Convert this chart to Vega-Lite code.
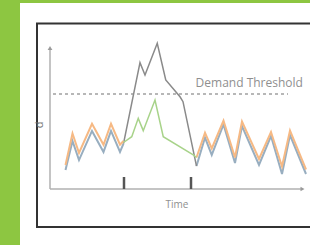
{
  "$schema": "https://vega.github.io/schema/vega-lite/v6.json",
  "width": 290,
  "height": 242,
  "autosize": {"type": "none"},
  "padding": {"left": 20, "top": 3, "right": 0, "bottom": 0},
  "background": "#8dc641",
  "config": {"view": {"fill": "white", "stroke": null}},
  "datasets": {
    "lines": [
      {"series": "blue_left", "t": 6.2, "d": 12.7},
      {"series": "blue_left", "t": 9, "d": 32},
      {"series": "blue_left", "t": 11.6, "d": 19.3},
      {"series": "blue_left", "t": 16.8, "d": 38.7},
      {"series": "blue_left", "t": 21.4, "d": 24.7},
      {"series": "blue_left", "t": 24.4, "d": 38.7},
      {"series": "blue_left", "t": 28, "d": 24.7},
      {"series": "blue_left", "t": 29.4, "d": 30.3},
      {"series": "orange_left", "t": 6.2, "d": 16},
      {"series": "orange_left", "t": 9, "d": 37},
      {"series": "orange_left", "t": 11.6, "d": 24},
      {"series": "orange_left", "t": 16.8, "d": 43.5},
      {"series": "orange_left", "t": 21.4, "d": 29.5},
      {"series": "orange_left", "t": 24.4, "d": 43.5},
      {"series": "orange_left", "t": 28, "d": 29.5},
      {"series": "orange_left", "t": 29.4, "d": 32},
      {"series": "peak", "t": 29.4, "d": 30.3},
      {"series": "peak", "t": 36, "d": 84.2},
      {"series": "peak", "t": 38, "d": 76},
      {"series": "peak", "t": 42.9, "d": 97.1},
      {"series": "peak", "t": 46.3, "d": 72.7},
      {"series": "peak", "t": 52, "d": 61.5},
      {"series": "peak", "t": 53.2, "d": 58.2},
      {"series": "peak", "t": 58.6, "d": 15.3},
      {"series": "green", "t": 29.4, "d": 31},
      {"series": "green", "t": 32.7, "d": 34.9},
      {"series": "green", "t": 35.3, "d": 47.1},
      {"series": "green", "t": 37.3, "d": 38.9},
      {"series": "green", "t": 42, "d": 59.3},
      {"series": "green", "t": 45.3, "d": 34.9},
      {"series": "green", "t": 57.3, "d": 22.7},
      {"series": "green", "t": 58.6, "d": 21},
      {"series": "blue_right", "t": 58.6, "d": 15.3},
      {"series": "blue_right", "t": 62, "d": 34.3},
      {"series": "blue_right", "t": 64.7, "d": 22.7},
      {"series": "blue_right", "t": 69.4, "d": 43},
      {"series": "blue_right", "t": 74, "d": 17.3},
      {"series": "blue_right", "t": 76.8, "d": 42},
      {"series": "blue_right", "t": 83.6, "d": 16},
      {"series": "blue_right", "t": 88.4, "d": 35.3},
      {"series": "blue_right", "t": 92.8, "d": 10},
      {"series": "blue_right", "t": 96, "d": 36},
      {"series": "blue_right", "t": 102.4, "d": 10},
      {"series": "orange_right", "t": 58.6, "d": 21},
      {"series": "orange_right", "t": 62, "d": 37.5},
      {"series": "orange_right", "t": 64.7, "d": 27},
      {"series": "orange_right", "t": 69.4, "d": 45.5},
      {"series": "orange_right", "t": 74, "d": 21},
      {"series": "orange_right", "t": 76.8, "d": 45},
      {"series": "orange_right", "t": 83.6, "d": 20},
      {"series": "orange_right", "t": 88.4, "d": 38},
      {"series": "orange_right", "t": 92.8, "d": 15},
      {"series": "orange_right", "t": 96, "d": 39},
      {"series": "orange_right", "t": 102.4, "d": 13}
    ]
  },
  "layer": [
    {
      "data": {"values": [{"t": -5.2, "t2": 112, "d": 110.3, "d2": -25.3}]},
      "mark": {"type": "rect", "fill": "white", "stroke": "#333333", "strokeWidth": 2},
      "encoding": {
        "x": {"field": "t", "type": "quantitative", "scale": {"domain": [-12, 104], "nice": false, "zero": false}, "axis": null},
        "x2": {"field": "t2"},
        "y": {"field": "d", "type": "quantitative", "scale": {"domain": [-37.33, 124], "nice": false, "zero": false}, "axis": null},
        "y2": {"field": "d2"}
      }
    },
    {
      "data": {"values": [{"t": 0, "t2": 0, "d": 0, "d2": 94}, {"t": 0, "t2": 101, "d": 0, "d2": 0}]},
      "mark": {"type": "rule", "color": "#b0b0b0", "strokeWidth": 1.5},
      "encoding": {
        "x": {"field": "t", "type": "quantitative"},
        "x2": {"field": "t2"},
        "y": {"field": "d", "type": "quantitative"},
        "y2": {"field": "d2"}
      }
    },
    {
      "data": {"values": [{"t": 0, "d": 94, "s": "up"}, {"t": 101, "d": 0, "s": "right"}]},
      "mark": {"type": "point", "filled": true, "color": "#9a9a9a", "size": 22, "opacity": 1},
      "encoding": {
        "x": {"field": "t", "type": "quantitative"},
        "y": {"field": "d", "type": "quantitative"},
        "shape": {"field": "s", "type": "nominal", "scale": {"domain": ["up", "right"], "range": ["triangle-up", "triangle-right"]}, "legend": null}
      }
    },
    {
      "data": {"values": [{"t": 29.6, "d": 0, "d2": 8}, {"t": 56.4, "d": 0, "d2": 8}]},
      "mark": {"type": "rule", "color": "#555555", "strokeWidth": 2.5},
      "encoding": {
        "x": {"field": "t", "type": "quantitative"},
        "y": {"field": "d", "type": "quantitative"},
        "y2": {"field": "d2"}
      }
    },
    {
      "data": {"values": [{"t": 1.2, "t2": 95.2, "d": 63.3}]},
      "mark": {"type": "rule", "color": "#a0a0a0", "strokeWidth": 1.5, "strokeDash": [3, 3]},
      "encoding": {
        "x": {"field": "t", "type": "quantitative"},
        "x2": {"field": "t2"},
        "y": {"field": "d", "type": "quantitative"}
      }
    },
    {
      "data": {"name": "lines"},
      "transform": [{"filter": "datum.series === 'blue_left' || datum.series === 'blue_right'"}],
      "mark": {"type": "line", "color": "#98aec0", "strokeWidth": 2},
      "encoding": {
        "x": {"field": "t", "type": "quantitative"},
        "y": {"field": "d", "type": "quantitative"},
        "detail": {"field": "series"}
      }
    },
    {
      "data": {"name": "lines"},
      "transform": [{"filter": "datum.series === 'peak'"}],
      "mark": {"type": "line", "color": "#8a8a8a", "strokeWidth": 1.5},
      "encoding": {
        "x": {"field": "t", "type": "quantitative"},
        "y": {"field": "d", "type": "quantitative"}
      }
    },
    {
      "data": {"name": "lines"},
      "transform": [{"filter": "datum.series === 'orange_left' || datum.series === 'orange_right'"}],
      "mark": {"type": "line", "color": "#f6b984", "strokeWidth": 2},
      "encoding": {
        "x": {"field": "t", "type": "quantitative"},
        "y": {"field": "d", "type": "quantitative"},
        "detail": {"field": "series"}
      }
    },
    {
      "data": {"name": "lines"},
      "transform": [{"filter": "datum.series === 'green'"}],
      "mark": {"type": "line", "color": "#a8d38a", "strokeWidth": 1.5},
      "encoding": {
        "x": {"field": "t", "type": "quantitative"},
        "y": {"field": "d", "type": "quantitative"}
      }
    },
    {
      "data": {"values": [
        {"t": 79.7, "d": 70.7, "label": "Demand Threshold", "k": "a"},
        {"t": 50.8, "d": -10.7, "label": "Time", "k": "b"}
      ]},
      "mark": {"type": "text", "font": "Open Sans", "color": "#8f8f8f", "align": "center", "baseline": "middle"},
      "encoding": {
        "x": {"field": "t", "type": "quantitative"},
        "y": {"field": "d", "type": "quantitative"},
        "text": {"field": "label"},
        "size": {"field": "k", "type": "nominal", "scale": {"domain": ["a", "b"], "range": [12, 10]}, "legend": null}
      }
    },
    {
      "data": {"values": [{"t": -4, "d": 42.7, "label": "d"}]},
      "mark": {"type": "text", "font": "Open Sans", "color": "#777777", "fontSize": 11, "angle": 270, "align": "center", "baseline": "middle"},
      "encoding": {
        "x": {"field": "t", "type": "quantitative"},
        "y": {"field": "d", "type": "quantitative"},
        "text": {"field": "label"}
      }
    }
  ]
}
